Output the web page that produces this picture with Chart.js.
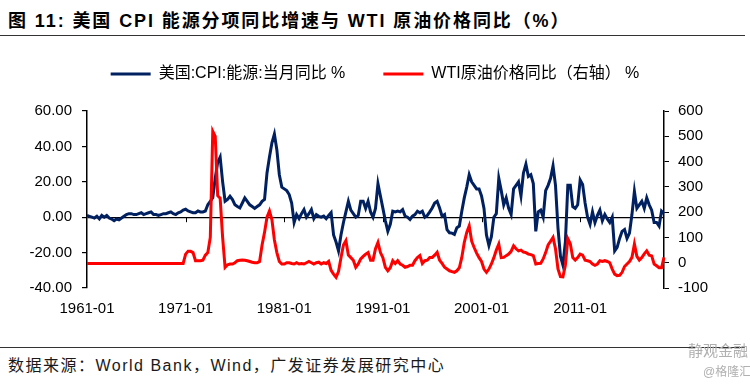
<!DOCTYPE html>
<html>
<head>
<meta charset="utf-8">
<script src="https://cdn.jsdelivr.net/npm/chart.js@4.4.1/dist/chart.umd.min.js"></script>
<style>
  body { margin: 0; width: 750px; height: 385px; background: #fff; position: relative; overflow: hidden;
         font-family: "Liberation Sans", "Noto Sans CJK SC", sans-serif; }
  #title { position: absolute; left: 8px; top: 6px; font-size: 18px; letter-spacing: 1.9px; font-weight: bold; color: #000; white-space: nowrap; }
  .rule { position: absolute; left: 0; width: 745px; height: 0; border-top: 1.5px solid #333; }
  #box { position: absolute; left: 0; top: 28px; width: 750px; height: 318px; }
  #source { position: absolute; left: 8px; top: 352px; font-size: 16px; letter-spacing: 1.5px; color: #1a1a1a; white-space: nowrap; }
  #mark1 { position: absolute; left: 688px; top: 339px; font-size: 15px; color: #b0b0b0; white-space: nowrap; }
  #mark2 { position: absolute; left: 703px; top: 362px; font-size: 12px; color: #b0b0b0; white-space: nowrap; }
</style>
</head>
<body>
<div id="title">图 11:&nbsp;美国 CPI 能源分项同比增速与 WTI 原油价格同比（%）</div>
<div class="rule" style="top:35px"></div>
<div id="box"><canvas id="chart"></canvas></div>
<div class="rule" style="top:347px"></div>
<div id="source">数据来源：World Bank，Wind，广发证券发展研究中心</div>
<div id="mark1">静观金融</div>
<div id="mark2">@格隆汇</div>
<script>
// quarterly points, 1961-01 .. 2019-07
const startYear = 1961;
const pointCount = 235;

// 美国:CPI:能源:当月同比 (%), left axis
const cpiEnergy = [
  1.0, 0.5, 0.0, -0.5,   0.5, -1.0, 1.0, 0.0,   1.0, -0.5, -1.0, -2.0,   -1.0, -1.5, -0.5, 0.5,
  1.5, 2.0, 2.0, 1.5,    1.5, 2.0, 2.5, 1.5,    2.0, 2.5, 3.0, 1.5,      1.5, 1.0, 1.5, 2.0,
  2.0, 2.5, 3.0, 2.0,    1.5, 2.5, 3.0, 4.0,
  4.5, 3.5, 3.0, 2.5,    2.5, 3.5, 3.0, 3.0,    3.5, 7.0, 9.0, 11.0,     22.0, 31.0, 34.0, 20.0,
  9.0, 10.0, 11.8, 10.0, 7.0, 6.0, 5.2, 8.0,    10.9, 9.0, 7.0, 6.0,     5.0, 6.0, 7.0, 9.0,
  10.0, 25.0, 34.0, 42.0, 47.0, 38.0, 24.0, 17.0,
  16.0, 15.0, 12.8, 8.0, -3.0, 1.5, -0.8, 2.0,  4.3, 0.0, 2.0, 4.3,      -0.8, 1.5, 0.5, 0.0,
  0.6, -0.8, 1.0, 2.6,   -10.0, -14.0, -19.0, -10.0, -3.0, 3.0, 9.0, 4.0, 2.0, 0.0, 1.0, 9.0,
  9.0, 5.0, 9.0, 3.0,    0.0, 5.0, 19.0, 12.0,
  5.0, -2.0, -7.9, -4.0, 3.4, 3.0, 3.4, 3.0,    4.3, 0.6, 0.0, -1.3,     0.6, 1.5, 3.4, 2.5,
  3.4, 0.0, 1.0, 3.0,    5.2, 8.0, 9.0, 5.2,    0.6, 1.5, -7.0, -8.8,    -9.0, -9.7, -6.0, -5.0,
  3.4, 10.9, 17.0, 24.0, 20.0, 18.0, 16.0, 16.0,
  12.0, 5.0, -10.0, -16.0, -11.0, 0.0, 2.0, 22.0, 15.0, 7.0, 10.9, 5.0,  1.5, 16.0, 18.0, 20.0,
  12.0, 25.0, 30.0, 23.0, 24.0, 19.0, -8.0, 3.0, 4.0, 0.0, 15.0, 18.0,   22.0, 29.0, 18.0, -6.0,
  -22.0, -27.0, -14.0, 18.0, 18.0, 6.0, 5.0, 7.0,
  21.0, 18.5, 8.0, 0.0,  -4.0, 3.0, -3.0, 1.0,  4.0, -2.0, 1.5, -1.0,    -3.0, 0.0, -19.0, -17.0,
  -12.0, -8.0, -7.0, -12.0, -9.0, 1.5, 14.6, 5.0, 7.0, 9.0, 5.0, 10.9,   7.0, 4.0, -3.0, -3.0,
  -5.0, 3.4, 2.0
];

// WTI原油价格同比 (%), right axis
const wtiYoy = [
  -3, -3, -3, -3,  -3, -3, -3, -3,  -3, -3, -3, -3,  -3, -3, -3, -3,
  -3, -3, -3, -3,  -3, -3, -3, -3,  -3, -3, -3, -3,  -3, -3, -3, -3,
  -3, -3, -3, -3,  -3, -3, -3, -3,
  34, 45, 45, 40,  8, 8, 8, 10,     30, 40, 100, 520, 500, 265, 255, 100,
  -18, -8, -5, -5, 0, 8, 10, 11,    10, 8, 5, 2,     0, 0, 5, 70,
  120, 180, 205, 170, 90, 40, 5, -5,
  -5, 0, 0, -3,    -5, 0, -5, -3,   -5, 0, 5, 0,     -5, 0, 2, -5,
  0, -3, 5, -30,   -45, -58, -35, 20, 70, 87, 30, 20, 10, -18, -5, 15,
  25, 34, 40, 10,  10, 55, 80, 40,
  20, -18, -32, -20, 8, -3, 8, -5,  -10, -18, -15, -10, -10, 8, 20, 28,
  -3, 8, 10, 21,   21, 30, 41, 10,  -3, -18, -25, -32, -35, -38, -32, -20,
  21, 80, 120, 146, 85, 60, 38, 20,
  5, -25, -38, -25, -5, 20, 50, 74, 20, 21, 28, 34,  45, 67, 55, 47,
  50, 42, 40, 34,  32, 28, -5, -3,  -2, 15, 40, 70,  85, 100, 55, -25,
  -55, -56, -10, 95, 75, 20, 10, 20,
  34, 30, 10, 8,   5, -5, -10, -5,  8, 5, 8, 5,      0, -25, -45, -51,
  -50, -38, -15, -5, 5, 21, 74, 25, 10, 20, 35, 47,  30, 27, -5, -12,
  -20, -20, 21
];

const labels = [];
for (let i = 0; i < pointCount; i++) {
    const year = startYear + Math.floor(i / 4);
    const month = 1 + 3 * (i % 4);
    labels.push(year + "-" + (month < 10 ? "0" + month : month));
}

Chart.defaults.font.family = '"Liberation Sans", "Noto Sans CJK SC", sans-serif';
Chart.defaults.color = "#000";

// small tick marks hanging under the zero line
const zeroTicks = {
    id: "zeroTicks",
    beforeDatasetsDraw(chart) {
        const { ctx, scales: { x, y } } = chart;
        const y0 = y.getPixelForValue(0);
        ctx.save();
        ctx.strokeStyle = "#000";
        ctx.lineWidth = 1;
        for (let i = 40; i < labels.length; i += 40) {
            const px = Math.round(x.getPixelForValue(i)) + 0.5;
            ctx.beginPath();
            ctx.moveTo(px, y0);
            ctx.lineTo(px, y0 + 5);
            ctx.stroke();
        }
        ctx.restore();
    }
};

// leave more room between the legend row and the plot
const legendGap = {
    id: "legendGap",
    afterInit(chart) {
        const lg = chart.legend;
        if (lg) {
            const fit = lg.fit;
            lg.fit = function () { fit.call(this); this.height += 19; };
        }
    }
};

new Chart(document.getElementById("chart"), {
    type: "line",
    data: {
        labels: labels,
        datasets: [
            {
                label: "美国:CPI:能源:当月同比 %",
                data: cpiEnergy,
                borderColor: "#002060",
                backgroundColor: "#002060",
                borderWidth: 3,
                pointRadius: 0,
                tension: 0,
                yAxisID: "y",
                order: 1
            },
            {
                label: "WTI原油价格同比（右轴） %",
                data: wtiYoy,
                borderColor: "#ff0000",
                backgroundColor: "#ff0000",
                borderWidth: 3,
                pointRadius: 0,
                tension: 0,
                yAxisID: "y1",
                order: 0
            }
        ]
    },
    options: {
        responsive: true,
        maintainAspectRatio: false,
        animation: false,
        layout: { padding: 0 },
        plugins: {
            tooltip: { enabled: false },
            legend: {
                position: "top",
                labels: {
                    boxWidth: 40,
                    boxHeight: 3,
                    padding: 38,
                    font: { size: 16 },
                    color: "#000",
                    sort: (a, b) => a.datasetIndex - b.datasetIndex,
                    generateLabels(chart) {
                        const items = Chart.defaults.plugins.legend.labels.generateLabels(chart);
                        items.forEach(it => { it.lineWidth = 0; it.fillStyle = it.strokeStyle; });
                        return items;
                    }
                }
            }
        },
        scales: {
            x: {
                type: "category",
                grid: { display: false, drawTicks: false },
                border: { display: false },
                ticks: {
                    autoSkip: false,
                    maxRotation: 0,
                    padding: 12,
                    font: { size: 15 },
                    callback: (v, i) => (i % 40 === 0 ? labels[i] : "")
                },
                afterFit(s) { s.height = 58; }
            },
            y: {
                position: "left",
                min: -40,
                max: 60,
                ticks: { stepSize: 20, padding: 10, font: { size: 15 }, callback: v => v.toFixed(2) },
                grid: {
                    color: c => (c.tick && c.tick.value === 0 ? "#000" : "rgba(0,0,0,0)"),
                    lineWidth: 1.2,
                    tickColor: "#000",
                    tickLength: 5
                },
                border: { display: true, color: "#000", width: 1.5 },
                afterFit(s) { s.width = 87; }
            },
            y1: {
                position: "right",
                min: -100,
                max: 600,
                ticks: { stepSize: 100, padding: 9, font: { size: 15 } },
                grid: { drawOnChartArea: false, tickColor: "#000", tickLength: 5 },
                border: { display: true, color: "#000", width: 1.5 },
                afterFit(s) { s.width = 86; }
            }
        }
    },
    plugins: [zeroTicks, legendGap]
});
</script>
</body>
</html>
